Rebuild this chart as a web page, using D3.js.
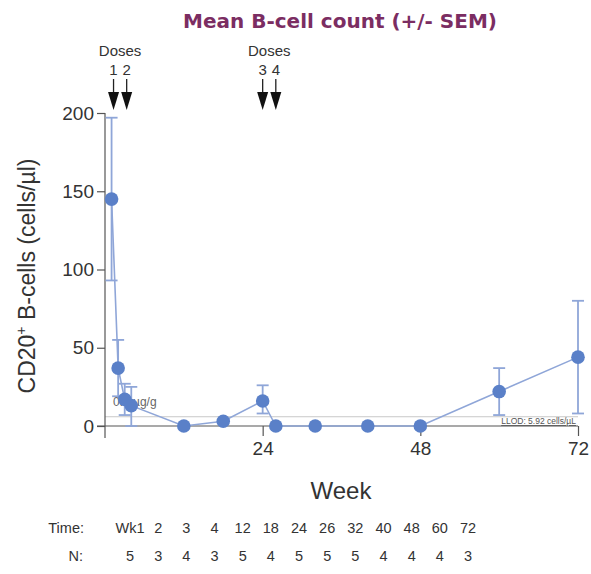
<!DOCTYPE html>
<html><head><meta charset="utf-8">
<script src="https://cdn.jsdelivr.net/npm/d3@7"></script>
<style>body{margin:0;background:#fff;} text{font-family:"Liberation Sans",Arial,sans-serif;}</style>
</head><body>
<svg id="c" width="591" height="574"></svg>
<script>
const weeks = [1, 2, 3, 4, 12, 18, 24, 26, 32, 40, 48, 60, 72];
const meanVals = [145, 37, 17, 13, 0, 3, 16, 0, 0, 0, 0, 22, 44];
const errLow = [93, 19, 7, 0, null, null, 8, null, null, null, null, 7, 8];
const errHigh = [197, 55, 27, 25, null, null, 26, null, null, null, null, 37, 80];
const yTicks = [0, 50, 100, 150, 200];
const xTicks = [24, 48, 72];
const doseWeeks = [1.3, 3.3, 24, 26];
const doseLabels = ["1", "2", "3", "4"];
const doseGroups = [{label: "Doses", at: 2.3}, {label: "Doses", at: 25}];
const llod = 5.92;
const timeLabels = ["Wk1", "2", "3", "4", "12", "18", "24", "26", "32", "40", "48", "60", "72"];
const nValues = [5, 3, 4, 3, 5, 4, 5, 5, 5, 4, 4, 4, 3];

const svg = d3.select("#c");
const x = d3.scaleLinear().domain([0, 72]).range([105, 578]);
const y = d3.scaleLinear().domain([0, 200]).range([426, 113]);
const axisCol = "#555";
const blue = "#5a80c8", lineBlue = "#8fa6d8";

// title
svg.append("text").attr("x", 340).attr("y", 28).attr("text-anchor", "middle")
  .style("font-family", "DejaVu Sans, Verdana, sans-serif")
  .attr("font-size", 20).attr("font-weight", "bold").attr("fill", "#7b2d62")
  .text("Mean B-cell count (+/- SEM)");

// LLOD line
svg.append("line").attr("x1", x(0)).attr("x2", x(72)).attr("y1", y(llod)).attr("y2", y(llod))
  .attr("stroke", "#c8c8c8").attr("stroke-width", 1);
svg.append("text").attr("x", x(72) - 2).attr("y", y(0) - 2).attr("text-anchor", "end")
  .attr("font-size", 8.5).attr("fill", "#555").attr("text-decoration", "underline")
  .text("LLOD: 5.92 cells/µL");
svg.append("text").attr("x", 113).attr("y", 406).attr("font-size", 12).attr("fill", "#666")
  .text("0.3 µg/g");

// axes
const yAxis = svg.append("g").attr("transform", `translate(${x(0)},0)`)
  .call(d3.axisLeft(y).tickValues(yTicks).tickSize(8).tickPadding(3));
yAxis.select(".domain").attr("d", `M0,${y(200)}V${y(0) + 12}`);
const xAxis = svg.append("g").attr("transform", `translate(0,${y(0)})`)
  .call(d3.axisBottom(x).tickValues(xTicks).tickSize(10).tickPadding(6));
xAxis.select(".domain").attr("d", `M${x(0) - 8},0H${x(72)}`);
[yAxis, xAxis].forEach(g => {
  g.selectAll("path,line").attr("stroke", axisCol).attr("stroke-width", 1.2);
  g.selectAll("text").attr("font-size", 19).attr("fill", "#333")
    .style("font-family", "Liberation Sans, Arial, sans-serif");
});

// axis titles
const yl = svg.append("text").attr("transform", "translate(35,276) rotate(-90)")
  .attr("text-anchor", "middle").attr("font-size", 23).attr("fill", "#333");
yl.append("tspan").text("CD20");
yl.append("tspan").attr("dy", -9).attr("font-size", 14).text("+");
yl.append("tspan").attr("dy", 9).text(" B-cells (cells/µl)");
svg.append("text").attr("x", 341).attr("y", 499).attr("text-anchor", "middle")
  .attr("font-size", 24).attr("fill", "#333").text("Week");

// error bars
const eb = weeks.map((w, i) => ({w, lo: errLow[i], hi: errHigh[i]})).filter(d => d.hi !== null);
const g = svg.append("g");
eb.forEach(d => {
  g.append("line").attr("x1", x(d.w)).attr("x2", x(d.w)).attr("y1", y(d.lo)).attr("y2", y(d.hi))
    .attr("stroke", lineBlue).attr("stroke-width", 1.8);
  [d.lo, d.hi].forEach(v => g.append("line").attr("x1", x(d.w) - 6).attr("x2", x(d.w) + 6)
    .attr("y1", y(v)).attr("y2", y(v)).attr("stroke", lineBlue).attr("stroke-width", 1.8));
});

// line and points
const data = weeks.map((w, i) => ({w, v: meanVals[i]}));
g.append("path").datum(data).attr("fill", "none").attr("stroke", lineBlue).attr("stroke-width", 1.6)
  .attr("d", d3.line().x(d => x(d.w)).y(d => y(d.v)));
g.selectAll("circle").data(data).join("circle").attr("cx", d => x(d.w)).attr("cy", d => y(d.v))
  .attr("r", 6.8).attr("fill", blue);

// doses
doseGroups.forEach(d => svg.append("text").attr("x", x(d.at)).attr("y", 56).attr("text-anchor", "middle")
  .attr("font-size", 15).attr("fill", "#333").text(d.label));
doseWeeks.forEach((w, i) => {
  const cx = x(w);
  svg.append("text").attr("x", cx).attr("y", 75).attr("text-anchor", "middle")
    .attr("font-size", 15).attr("fill", "#333").text(doseLabels[i]);
  svg.append("line").attr("x1", cx).attr("x2", cx).attr("y1", 79).attr("y2", 96)
    .attr("stroke", "#222").attr("stroke-width", 1.3);
  svg.append("path").attr("d", `M${cx - 5.5},92L${cx + 5.5},92L${cx},110Z`).attr("fill", "#111");
});

// table
const tx = d3.scalePoint().domain(timeLabels).range([130, 468]);
svg.append("text").attr("x", 84).attr("y", 533).attr("text-anchor", "end").attr("font-size", 14.5).attr("fill", "#333").text("Time:");
svg.append("text").attr("x", 83).attr("y", 561).attr("text-anchor", "end").attr("font-size", 14.5).attr("fill", "#333").text("N:");
timeLabels.forEach((t, i) => {
  svg.append("text").attr("x", tx(t)).attr("y", 533).attr("text-anchor", "middle").attr("font-size", 14.5).attr("fill", "#333").text(t);
  svg.append("text").attr("x", tx(t)).attr("y", 561).attr("text-anchor", "middle").attr("font-size", 14.5).attr("fill", "#333").text(nValues[i]);
});
</script>
</body></html>
